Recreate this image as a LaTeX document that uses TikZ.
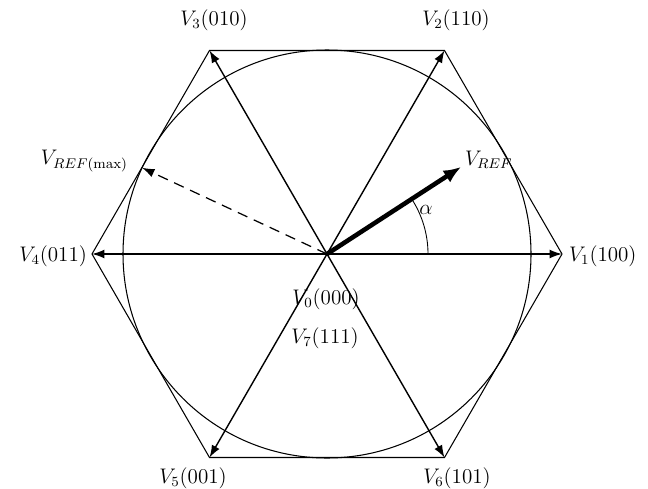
\documentclass[tikz,border=0pt]{standalone}
\usepackage{amsmath, amssymb}
\usepackage{tikz}
\usetikzlibrary{positioning,arrows.meta}
\tikzset{
  hexline/.style={line width=0.6pt},
  vecarrow/.style={-{Latex[length=7pt, width=5pt]}, line width=0.8pt},
  refarrow/.style={-{Latex[length=10pt, width=8pt]}, line width=2.6pt},
  maxarrow/.style={-{Latex[length=7pt, width=5pt]}, line width=0.7pt, dash pattern=on 6pt off 4pt},
  veclabel/.style={font=\fontsize{12}{14}\selectfont, inner sep=1pt}
}

\begin{document}
\begin{tikzpicture}[x=0.02cm, y=0.02cm, >=Latex]
  \useasboundingbox (0,0) rectangle (648,488);
  \coordinate (O) at (327,234);
  \foreach \i in {1,...,6}
    \coordinate (v\i) at ([shift={({(\i-1)*60}:235)}]O);
  \coordinate (vmax) at ([shift={(155:204)}]O);
  \coordinate (vref) at ([shift={(33:160)}]O);

  % hexagon and circle
  \draw[hexline] (v1) -- (v2) -- (v3) -- (v4) -- (v5) -- (v6) -- cycle;
  \draw[hexline] (O) circle (204);

  % space vectors
  \foreach \i in {1,...,6}
    \draw[vecarrow] (O) -- (v\i);
  \draw[maxarrow] (O) -- (vmax);
  \draw[refarrow] (O) -- (vref);
  \draw[line width=0.5pt] ([shift={(0:101)}]O) arc (0:33:101);

  % labels
  \node[veclabel, anchor=west] (l1) at (567,232) {$V_1(100)$};
  \node[veclabel] (l2) at (456,468) {$V_2(110)$};
  \node[veclabel] (l3) at (214,468) {$V_3(010)$};
  \node[veclabel, anchor=east] (l4) at (89,232) {$V_4(011)$};
  \node[veclabel] (l5) at (193,10) {$V_5(001)$};
  \node[veclabel] (l6) at (457,10) {$V_6(101)$};
  \node[veclabel] (l0) at (326,189) {$V_0(000)$};
  \node[veclabel] (l7) at (325,150) {$V_7(111)$};
  \node[veclabel, anchor=west] (lref) at (463,328) {$V_{REF}$};
  \node[veclabel, anchor=east] (lmax) at (130,327) {$V_{REF(\mathrm{max})}$};
  \node[veclabel] (lalpha) at (426,278) {$\alpha$};
\end{tikzpicture}
\end{document}
